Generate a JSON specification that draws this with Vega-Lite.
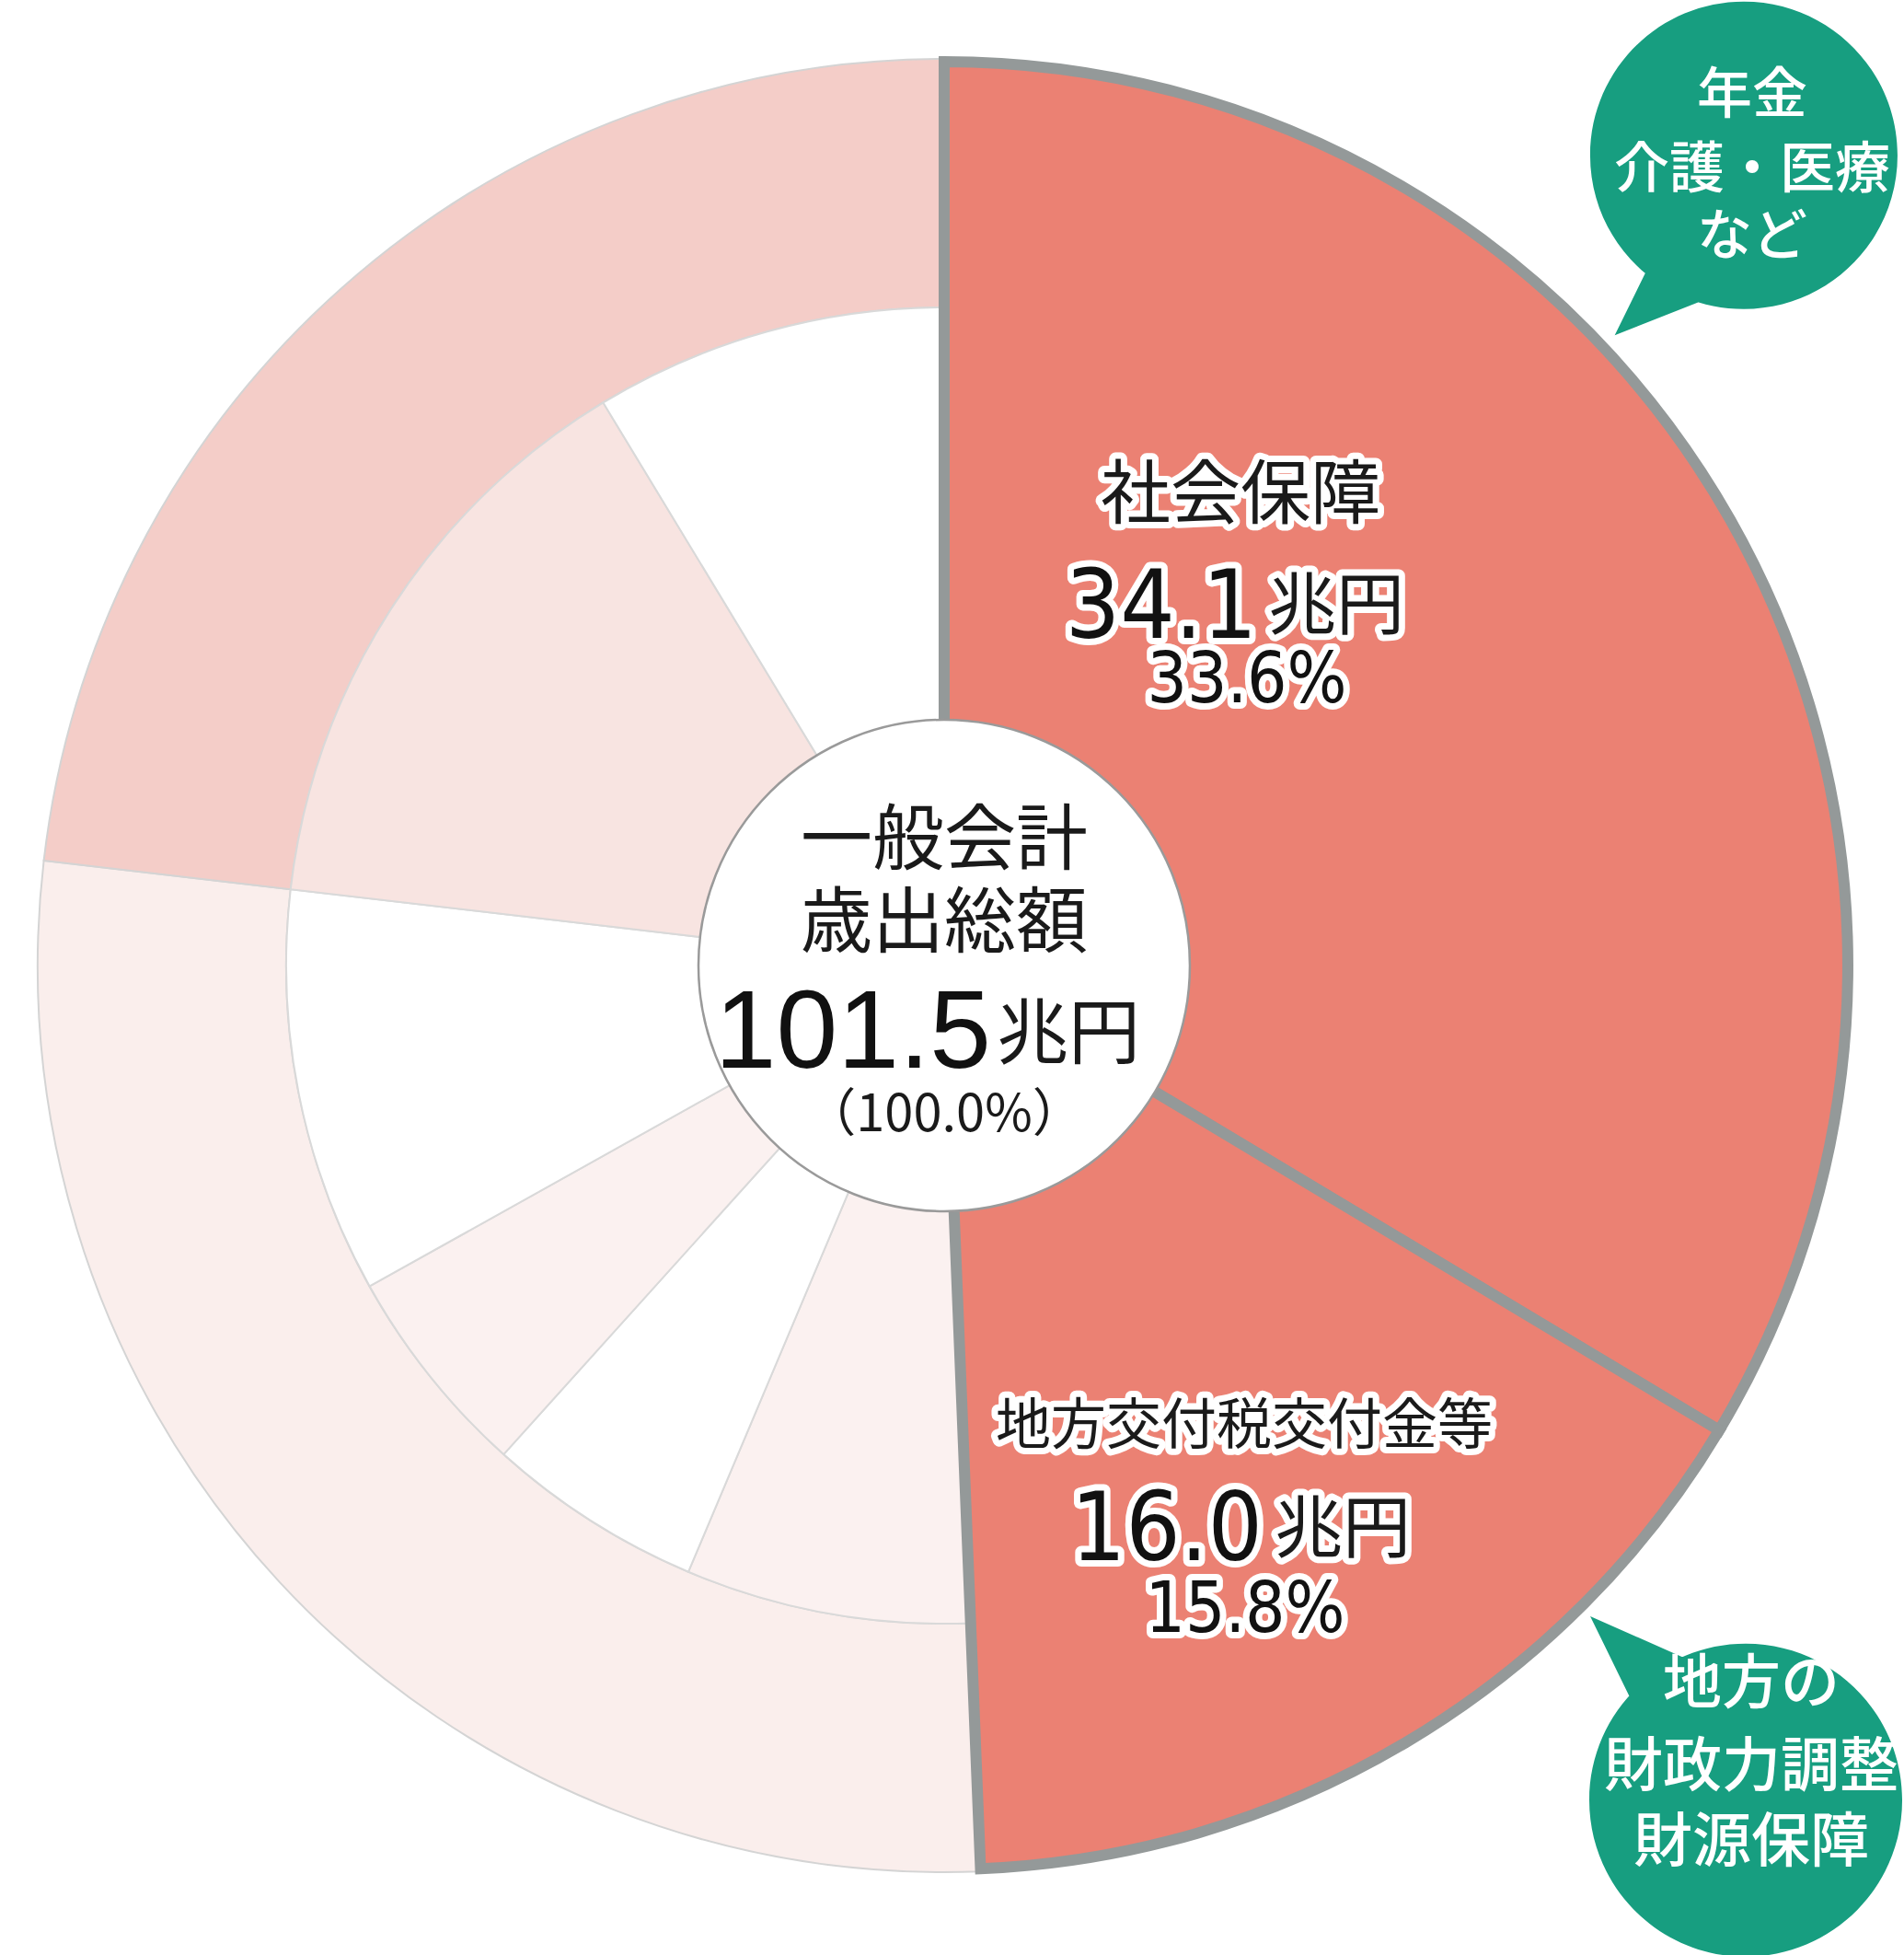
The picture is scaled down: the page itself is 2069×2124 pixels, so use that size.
{
  "$schema": "https://vega.github.io/schema/vega-lite/v6.json",
  "width": 2069,
  "height": 2124,
  "autosize": {"type": "fit", "contains": "padding"},
  "padding": 0,
  "background": "#ffffff",
  "config": {"view": {"stroke": null}},
  "datasets": {
    "slices": [
      {"item": "社会保障", "group": "社会保障", "value": 34.1, "share": 33.6, "order": 1},
      {"item": "地方交付税交付金等", "group": "地方交付税交付金等", "value": 16.0, "share": 15.8, "order": 2},
      {"item": "公共事業", "group": "その他の歳出", "value": 7.1, "order": 3},
      {"item": "文教及び科学振興", "group": "その他の歳出", "value": 5.4, "order": 4},
      {"item": "防衛", "group": "その他の歳出", "value": 5.3, "order": 5},
      {"item": "その他", "group": "その他の歳出", "value": 10.1, "order": 6},
      {"item": "債務償還費", "group": "国債費", "value": 14.7, "order": 7},
      {"item": "利払費等", "group": "国債費", "value": 8.8, "order": 8}
    ]
  },
  "resolve": {"scale": {"fill": "independent"}},
  "layer": [
    {
      "data": {"name": "slices"},
      "transform": [
        {"aggregate": [{"op": "sum", "field": "value", "as": "value"}, {"op": "min", "field": "order", "as": "order"}], "groupby": ["group"]}
      ],
      "mark": {"type": "arc", "radius": 985, "radius2": 715, "stroke": "#d4d4d4", "strokeWidth": 2},
      "encoding": {
        "x": {"datum": 0, "type": "quantitative", "scale": {"domain": [-1.0416, 1.0589], "nice": false, "zero": false}, "axis": null},
        "y": {"datum": 0, "type": "quantitative", "scale": {"domain": [-1.0772, 1.0792], "nice": false, "zero": false}, "axis": null},
        "theta": {"field": "value", "type": "quantitative", "stack": true, "scale": {"domain": [0, 101.5], "nice": false, "zero": true}},
        "order": {"field": "order", "type": "quantitative"},
        "fill": {"field": "group", "type": "nominal", "legend": null,
          "scale": {"domain": ["社会保障", "地方交付税交付金等", "その他の歳出", "国債費"], "range": ["#EB8173", "#EB8173", "#FAEEEC", "#F4CDC8"]}}
      }
    },
    {
      "data": {"name": "slices"},
      "mark": {"type": "arc", "radius": 715, "radius2": 265, "stroke": "#d9d9d9", "strokeWidth": 2},
      "encoding": {
        "x": {"datum": 0, "type": "quantitative", "scale": {"domain": [-1.0416, 1.0589], "nice": false, "zero": false}, "axis": null},
        "y": {"datum": 0, "type": "quantitative", "scale": {"domain": [-1.0772, 1.0792], "nice": false, "zero": false}, "axis": null},
        "theta": {"field": "value", "type": "quantitative", "stack": true, "scale": {"domain": [0, 101.5], "nice": false, "zero": true}},
        "order": {"field": "order", "type": "quantitative"},
        "fill": {"field": "item", "type": "nominal", "legend": null,
          "scale": {"domain": ["社会保障", "地方交付税交付金等", "公共事業", "文教及び科学振興", "防衛", "その他", "債務償還費", "利払費等"],
                    "range": ["#EB8173", "#EB8173", "#FBF1F0", "#FFFFFF", "#FBF1F0", "#FFFFFF", "#F8E4E1", "#FFFFFF"]}}
      }
    },
    {
      "data": {"name": "slices"},
      "transform": [{"filter": "datum.group === '社会保障' || datum.group === '地方交付税交付金等'"}],
      "mark": {"type": "arc", "radius": 982, "radius2": 240, "fill": "#EB8173", "stroke": "#949999", "strokeWidth": 12, "strokeJoin": "miter"},
      "encoding": {
        "x": {"datum": 0, "type": "quantitative", "scale": {"domain": [-1.0416, 1.0589], "nice": false, "zero": false}, "axis": null},
        "y": {"datum": 0, "type": "quantitative", "scale": {"domain": [-1.0772, 1.0792], "nice": false, "zero": false}, "axis": null},
        "theta": {"field": "value", "type": "quantitative", "stack": true, "scale": {"domain": [0, 101.5], "nice": false, "zero": true}},
        "order": {"field": "order", "type": "quantitative"}
      }
    },
    {
      "data": {"name": "slices"},
      "transform": [{"aggregate": [{"op": "sum", "field": "value", "as": "total"}]}],
      "layer": [
        {
          "mark": {"type": "point", "shape": "circle", "size": 285156, "filled": true, "fill": "#ffffff", "stroke": "#9a9a9a", "strokeWidth": 2.5, "opacity": 1},
          "encoding": {
            "x": {"datum": 0, "type": "quantitative", "scale": {"domain": [-1.0416, 1.0589], "nice": false, "zero": false}, "axis": null},
            "y": {"datum": 0, "type": "quantitative", "scale": {"domain": [-1.0772, 1.0792], "nice": false, "zero": false}, "axis": null}
          }
        },
        {
          "mark": {"type": "text", "text": "一般会計", "font": "Noto Sans CJK JP", "fontSize": 78, "align": "center", "baseline": "middle", "fill": "#1a1a1a"},
          "encoding": {
            "x": {"datum": 0, "type": "quantitative", "scale": {"domain": [-1.0416, 1.0589], "nice": false, "zero": false}, "axis": null},
            "y": {"datum": 0.1371, "type": "quantitative", "scale": {"domain": [-1.0772, 1.0792], "nice": false, "zero": false}, "axis": null}
          }
        },
        {
          "mark": {"type": "text", "text": "歳出総額", "font": "Noto Sans CJK JP", "fontSize": 78, "align": "center", "baseline": "middle", "fill": "#1a1a1a"},
          "encoding": {
            "x": {"datum": 0, "type": "quantitative", "scale": {"domain": [-1.0416, 1.0589], "nice": false, "zero": false}, "axis": null},
            "y": {"datum": 0.0447, "type": "quantitative", "scale": {"domain": [-1.0772, 1.0792], "nice": false, "zero": false}, "axis": null}
          }
        },
        {
          "mark": {"type": "text", "font": "Liberation Sans, Arial, sans-serif", "fontSize": 120, "align": "right", "baseline": "alphabetic", "fill": "#111111"},
          "encoding": {
            "x": {"datum": 0.0518, "type": "quantitative", "scale": {"domain": [-1.0416, 1.0589], "nice": false, "zero": false}, "axis": null},
            "y": {"datum": -0.1147, "type": "quantitative", "scale": {"domain": [-1.0772, 1.0792], "nice": false, "zero": false}, "axis": null},
            "text": {"field": "total", "type": "quantitative", "format": ".1f"}
          }
        },
        {
          "mark": {"type": "text", "text": "兆円", "font": "Noto Sans CJK JP", "fontSize": 78, "align": "left", "baseline": "alphabetic", "fill": "#1a1a1a"},
          "encoding": {
            "x": {"datum": 0.0579, "type": "quantitative", "scale": {"domain": [-1.0416, 1.0589], "nice": false, "zero": false}, "axis": null},
            "y": {"datum": -0.104, "type": "quantitative", "scale": {"domain": [-1.0772, 1.0792], "nice": false, "zero": false}, "axis": null}
          }
        },
        {
          "mark": {"type": "text", "text": "（100.0%）", "font": "Noto Sans CJK JP", "fontSize": 56, "align": "center", "baseline": "middle", "fill": "#1a1a1a"},
          "encoding": {
            "x": {"datum": 0, "type": "quantitative", "scale": {"domain": [-1.0416, 1.0589], "nice": false, "zero": false}, "axis": null},
            "y": {"datum": -0.1675, "type": "quantitative", "scale": {"domain": [-1.0772, 1.0792], "nice": false, "zero": false}, "axis": null}
          }
        }
      ]
    },
    {
      "data": {"values": [{"bubble": "社会保障"}]},
      "layer": [
        {
          "mark": {"type": "point", "filled": true, "fill": "#179E80", "stroke": null, "opacity": 1, "size": 111556,
            "shape": "M1 0 C1 0.5523 0.5523 1 0 1 C-0.5523 1 -1 0.5523 -1 0 C-1 -0.5523 -0.5523 -1 0 -1 C0.5523 -1 1 -0.5523 1 0 Z M-0.84 1.17 L-0.52 0.52 L-0.18 0.91 Z"},
          "encoding": {
            "x": {"datum": 0.8822, "type": "quantitative", "scale": {"domain": [-1.0416, 1.0589], "nice": false, "zero": false}, "axis": null},
            "y": {"datum": 0.9056, "type": "quantitative", "scale": {"domain": [-1.0772, 1.0792], "nice": false, "zero": false}, "axis": null}
          }
        },
        {
          "mark": {"type": "text", "text": "年金", "font": "Noto Sans CJK JP", "fontSize": 60, "fontWeight": 500, "align": "center", "baseline": "middle", "fill": "#ffffff"},
          "encoding": {
            "x": {"datum": 0.8914, "type": "quantitative", "scale": {"domain": [-1.0416, 1.0589], "nice": false, "zero": false}, "axis": null},
            "y": {"datum": 0.9716, "type": "quantitative", "scale": {"domain": [-1.0772, 1.0792], "nice": false, "zero": false}, "axis": null}
          }
        },
        {
          "mark": {"type": "text", "text": "介護・医療", "font": "Noto Sans CJK JP", "fontSize": 60, "fontWeight": 500, "align": "center", "baseline": "middle", "fill": "#ffffff"},
          "encoding": {
            "x": {"datum": 0.8914, "type": "quantitative", "scale": {"domain": [-1.0416, 1.0589], "nice": false, "zero": false}, "axis": null},
            "y": {"datum": 0.8883, "type": "quantitative", "scale": {"domain": [-1.0772, 1.0792], "nice": false, "zero": false}, "axis": null}
          }
        },
        {
          "mark": {"type": "text", "text": "など", "font": "Noto Sans CJK JP", "fontSize": 60, "fontWeight": 500, "align": "center", "baseline": "middle", "fill": "#ffffff"},
          "encoding": {
            "x": {"datum": 0.8914, "type": "quantitative", "scale": {"domain": [-1.0416, 1.0589], "nice": false, "zero": false}, "axis": null},
            "y": {"datum": 0.8132, "type": "quantitative", "scale": {"domain": [-1.0772, 1.0792], "nice": false, "zero": false}, "axis": null}
          }
        }
      ]
    },
    {
      "data": {"values": [{"bubble": "地方交付税交付金等"}]},
      "layer": [
        {
          "mark": {"type": "point", "filled": true, "fill": "#179E80", "stroke": null, "opacity": 1, "size": 115600,
            "shape": "M1 0 C1 0.5523 0.5523 1 0 1 C-0.5523 1 -1 0.5523 -1 0 C-1 -0.5523 -0.5523 -1 0 -1 C0.5523 -1 1 -0.5523 1 0 Z M-0.994 -1.176 L-0.26 -0.85 L-0.62 -0.41 Z"},
          "encoding": {
            "x": {"datum": 0.8843, "type": "quantitative", "scale": {"domain": [-1.0416, 1.0589], "nice": false, "zero": false}, "axis": null},
            "y": {"datum": -0.933, "type": "quantitative", "scale": {"domain": [-1.0772, 1.0792], "nice": false, "zero": false}, "axis": null}
          }
        },
        {
          "mark": {"type": "text", "text": "地方の", "font": "Noto Sans CJK JP", "fontSize": 64, "fontWeight": 500, "align": "center", "baseline": "middle", "fill": "#ffffff"},
          "encoding": {
            "x": {"datum": 0.8904, "type": "quantitative", "scale": {"domain": [-1.0416, 1.0589], "nice": false, "zero": false}, "axis": null},
            "y": {"datum": -0.8041, "type": "quantitative", "scale": {"domain": [-1.0772, 1.0792], "nice": false, "zero": false}, "axis": null}
          }
        },
        {
          "mark": {"type": "text", "text": "財政力調整", "font": "Noto Sans CJK JP", "fontSize": 64, "fontWeight": 500, "align": "center", "baseline": "middle", "fill": "#ffffff"},
          "encoding": {
            "x": {"datum": 0.8904, "type": "quantitative", "scale": {"domain": [-1.0416, 1.0589], "nice": false, "zero": false}, "axis": null},
            "y": {"datum": -0.8975, "type": "quantitative", "scale": {"domain": [-1.0772, 1.0792], "nice": false, "zero": false}, "axis": null}
          }
        },
        {
          "mark": {"type": "text", "text": "財源保障", "font": "Noto Sans CJK JP", "fontSize": 64, "fontWeight": 500, "align": "center", "baseline": "middle", "fill": "#ffffff"},
          "encoding": {
            "x": {"datum": 0.8904, "type": "quantitative", "scale": {"domain": [-1.0416, 1.0589], "nice": false, "zero": false}, "axis": null},
            "y": {"datum": -0.9817, "type": "quantitative", "scale": {"domain": [-1.0772, 1.0792], "nice": false, "zero": false}, "axis": null}
          }
        }
      ]
    },
    {
      "data": {"name": "slices"},
      "transform": [
        {"filter": "datum.item === '社会保障'"},
        {"calculate": "format(datum.share, '.1f') + '%'", "as": "pct"}
      ],
      "layer": [
        {
          "encoding": {
            "x": {"datum": 0.3269, "type": "quantitative", "scale": {"domain": [-1.0416, 1.0589], "nice": false, "zero": false}, "axis": null},
            "y": {"datum": 0.5239, "type": "quantitative", "scale": {"domain": [-1.0772, 1.0792], "nice": false, "zero": false}, "axis": null},
            "text": {"field": "item", "type": "nominal"}
          },
          "layer": [
            {"mark": {"type": "text", "font": "Noto Sans CJK JP", "fontSize": 76, "align": "center", "baseline": "middle", "fill": "#ffffff", "stroke": "#ffffff", "strokeWidth": 14, "strokeJoin": "round"}},
            {"mark": {"type": "text", "font": "Noto Sans CJK JP", "fontSize": 76, "align": "center", "baseline": "middle", "fill": "#1a1a1a"}}
          ]
        },
        {
          "encoding": {
            "x": {"datum": 0.3452, "type": "quantitative", "scale": {"domain": [-1.0416, 1.0589], "nice": false, "zero": false}, "axis": null},
            "y": {"datum": 0.3665, "type": "quantitative", "scale": {"domain": [-1.0772, 1.0792], "nice": false, "zero": false}, "axis": null},
            "text": {"field": "value", "type": "quantitative", "format": ".1f"}
          },
          "layer": [
            {"mark": {"type": "text", "font": "DejaVu Sans Condensed, DejaVu Sans, sans-serif", "fontSize": 104, "align": "right", "baseline": "alphabetic", "fill": "#ffffff", "stroke": "#ffffff", "strokeWidth": 14, "strokeJoin": "round"}},
            {"mark": {"type": "text", "font": "DejaVu Sans Condensed, DejaVu Sans, sans-serif", "fontSize": 104, "align": "right", "baseline": "alphabetic", "fill": "#111111"}}
          ]
        },
        {
          "encoding": {
            "x": {"datum": 0.3574, "type": "quantitative", "scale": {"domain": [-1.0416, 1.0589], "nice": false, "zero": false}, "axis": null},
            "y": {"datum": 0.3765, "type": "quantitative", "scale": {"domain": [-1.0772, 1.0792], "nice": false, "zero": false}, "axis": null}
          },
          "layer": [
            {"mark": {"type": "text", "text": "兆円", "font": "Noto Sans CJK JP", "fontSize": 74, "align": "left", "baseline": "alphabetic", "fill": "#ffffff", "stroke": "#ffffff", "strokeWidth": 14, "strokeJoin": "round"}},
            {"mark": {"type": "text", "text": "兆円", "font": "Noto Sans CJK JP", "fontSize": 74, "align": "left", "baseline": "alphabetic", "fill": "#1a1a1a"}}
          ]
        },
        {
          "encoding": {
            "x": {"datum": 0.334, "type": "quantitative", "scale": {"domain": [-1.0416, 1.0589], "nice": false, "zero": false}, "axis": null},
            "y": {"datum": 0.2944, "type": "quantitative", "scale": {"domain": [-1.0772, 1.0792], "nice": false, "zero": false}, "axis": null},
            "text": {"field": "pct", "type": "nominal"}
          },
          "layer": [
            {"mark": {"type": "text", "font": "DejaVu Sans Condensed, DejaVu Sans, sans-serif", "fontSize": 76, "align": "center", "baseline": "alphabetic", "fill": "#ffffff", "stroke": "#ffffff", "strokeWidth": 14, "strokeJoin": "round"}},
            {"mark": {"type": "text", "font": "DejaVu Sans Condensed, DejaVu Sans, sans-serif", "fontSize": 76, "align": "center", "baseline": "alphabetic", "fill": "#111111"}}
          ]
        }
      ]
    },
    {
      "data": {"name": "slices"},
      "transform": [
        {"filter": "datum.item === '地方交付税交付金等'"},
        {"calculate": "format(datum.share, '.1f') + '%'", "as": "pct"}
      ],
      "layer": [
        {
          "encoding": {
            "x": {"datum": 0.331, "type": "quantitative", "scale": {"domain": [-1.0416, 1.0589], "nice": false, "zero": false}, "axis": null},
            "y": {"datum": -0.5168, "type": "quantitative", "scale": {"domain": [-1.0772, 1.0792], "nice": false, "zero": false}, "axis": null},
            "text": {"field": "item", "type": "nominal"}
          },
          "layer": [
            {"mark": {"type": "text", "font": "Noto Sans CJK JP", "fontSize": 60, "align": "center", "baseline": "middle", "fill": "#ffffff", "stroke": "#ffffff", "strokeWidth": 14, "strokeJoin": "round"}},
            {"mark": {"type": "text", "font": "Noto Sans CJK JP", "fontSize": 60, "align": "center", "baseline": "middle", "fill": "#1a1a1a"}}
          ]
        },
        {
          "encoding": {
            "x": {"datum": 0.3513, "type": "quantitative", "scale": {"domain": [-1.0416, 1.0589], "nice": false, "zero": false}, "axis": null},
            "y": {"datum": -0.665, "type": "quantitative", "scale": {"domain": [-1.0772, 1.0792], "nice": false, "zero": false}, "axis": null},
            "text": {"field": "value", "type": "quantitative", "format": ".1f"}
          },
          "layer": [
            {"mark": {"type": "text", "font": "DejaVu Sans Condensed, DejaVu Sans, sans-serif", "fontSize": 104, "align": "right", "baseline": "alphabetic", "fill": "#ffffff", "stroke": "#ffffff", "strokeWidth": 14, "strokeJoin": "round"}},
            {"mark": {"type": "text", "font": "DejaVu Sans Condensed, DejaVu Sans, sans-serif", "fontSize": 104, "align": "right", "baseline": "alphabetic", "fill": "#111111"}}
          ]
        },
        {
          "encoding": {
            "x": {"datum": 0.3645, "type": "quantitative", "scale": {"domain": [-1.0416, 1.0589], "nice": false, "zero": false}, "axis": null},
            "y": {"datum": -0.655, "type": "quantitative", "scale": {"domain": [-1.0772, 1.0792], "nice": false, "zero": false}, "axis": null}
          },
          "layer": [
            {"mark": {"type": "text", "text": "兆円", "font": "Noto Sans CJK JP", "fontSize": 74, "align": "left", "baseline": "alphabetic", "fill": "#ffffff", "stroke": "#ffffff", "strokeWidth": 14, "strokeJoin": "round"}},
            {"mark": {"type": "text", "text": "兆円", "font": "Noto Sans CJK JP", "fontSize": 74, "align": "left", "baseline": "alphabetic", "fill": "#1a1a1a"}}
          ]
        },
        {
          "encoding": {
            "x": {"datum": 0.332, "type": "quantitative", "scale": {"domain": [-1.0416, 1.0589], "nice": false, "zero": false}, "axis": null},
            "y": {"datum": -0.7452, "type": "quantitative", "scale": {"domain": [-1.0772, 1.0792], "nice": false, "zero": false}, "axis": null},
            "text": {"field": "pct", "type": "nominal"}
          },
          "layer": [
            {"mark": {"type": "text", "font": "DejaVu Sans Condensed, DejaVu Sans, sans-serif", "fontSize": 76, "align": "center", "baseline": "alphabetic", "fill": "#ffffff", "stroke": "#ffffff", "strokeWidth": 14, "strokeJoin": "round"}},
            {"mark": {"type": "text", "font": "DejaVu Sans Condensed, DejaVu Sans, sans-serif", "fontSize": 76, "align": "center", "baseline": "alphabetic", "fill": "#111111"}}
          ]
        }
      ]
    }
  ]
}
